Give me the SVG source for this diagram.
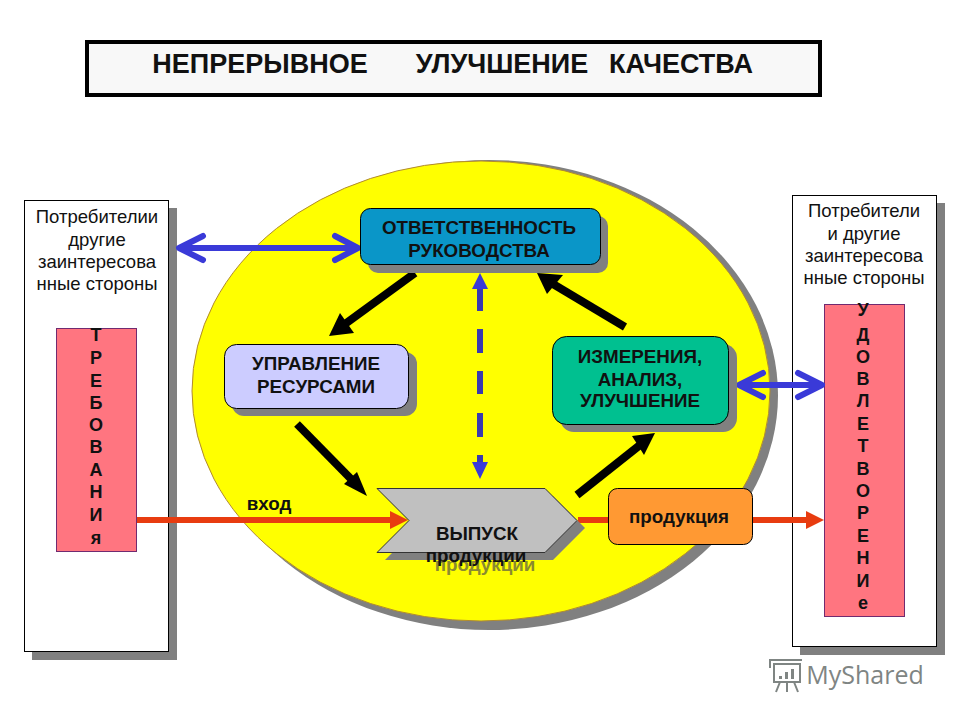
<svg xmlns="http://www.w3.org/2000/svg" width="960" height="720" viewBox="0 0 960 720">
<style>
text{font-family:"Liberation Sans",Arial,sans-serif;text-anchor:middle;fill:#111}
.t{font-weight:700;font-size:27px}
.b{font-weight:700;font-size:18.8px}
.r{font-size:18.5px}
.v{font-weight:700;font-size:18px}
.sh{fill:#808080}
.panel{fill:#fff;stroke:#000;stroke-width:1}
.red{fill:#ff7580;stroke:#702a70;stroke-width:1}
.k{stroke:#000;stroke-width:8;fill:none}
.bl{stroke:#3a3ad8;stroke-width:6;fill:none;stroke-linecap:round;stroke-linejoin:round}
.o{stroke:#e83c10;stroke-width:6;fill:none}
</style>
<rect width="960" height="720" fill="#fff"/>
<g id="title"><rect x="87" y="42" width="733" height="53" fill="#f8f8f8" stroke="#000" stroke-width="4"/>
<text class="t" x="260" y="73">НЕПРЕРЫВНОЕ</text><text class="t" x="502" y="73">УЛУЧШЕНИЕ</text><text class="t" x="681" y="73">КАЧЕСТВА</text></g>
<g id="ellipse"><ellipse cx="489" cy="395" rx="289" ry="235" class="sh"/><ellipse cx="481" cy="391" rx="289" ry="230" fill="#ffff00" stroke="#b08a30"/></g>
<g id="left-panel"><rect x="32" y="208" width="145" height="452" class="sh"/><rect x="24.500" y="200.500" width="144" height="451" class="panel"/>
<text class="r" x="97" y="223">Потребителии</text><text class="r" x="97" y="246">другие</text><text class="r" x="97" y="268">заинтересова</text><text class="r" x="97" y="290">нные стороны</text>
<rect x="56.500" y="328.500" width="80" height="223" class="red"/>
<g class="v"><text x="96" y="341">Т</text><text x="96" y="364">Р</text><text x="96" y="387">Е</text><text x="96" y="409">Б</text><text x="96" y="431">О</text><text x="96" y="453">В</text><text x="96" y="476">А</text><text x="96" y="498">Н</text><text x="96" y="521">И</text><text x="96" y="544">я</text></g></g>
<g id="right-panel"><rect x="800" y="203" width="145" height="452" class="sh"/><rect x="792.500" y="195.500" width="144" height="451" class="panel"/>
<text class="r" x="864" y="217">Потребители</text><text class="r" x="864" y="240">и другие</text><text class="r" x="864" y="262">заинтересова</text><text class="r" x="864" y="284">нные стороны</text>
<rect x="824.500" y="304.500" width="80" height="312" class="red"/>
<g class="v"><text x="863" y="316">У</text><text x="863" y="341">Д</text><text x="863" y="363">О</text><text x="863" y="385">В</text><text x="863" y="407">Л</text><text x="863" y="430">Е</text><text x="863" y="452">Т</text><text x="863" y="475">В</text><text x="863" y="497">О</text><text x="863" y="519">Р</text><text x="863" y="542">Е</text><text x="863" y="564">Н</text><text x="863" y="587">И</text><text x="863" y="609">е</text></g></g>
<g id="connectors">
<path class="o" d="M137 520H392"/><path d="M390 511L408 520L390 529Z" fill="#e83c10"/>
<path class="o" d="M578 520H610M744 520H808"/><path d="M806 511L824 520L806 529Z" fill="#e83c10"/>
<path class="bl" d="M180 248H355M203 236L179 248L203 260M335 236L358 248L335 260"/>
<path class="bl" d="M740 385H820M763 373L739 385L763 397M798 373L822 385L798 397"/>
<path stroke="#3a3ab0" stroke-width="6" fill="none" d="M480 289V311M480 329V353M480 371V394M480 413V437M480 455V463"/>
<path d="M480 273L488 289H472ZM480 479L472 462H488Z" fill="#3a3ad8"/>
<path class="k" d="M415 273L345 324"/><path d="M329 336L340 313L354 333Z"/>
<path class="k" d="M297 424L352 480"/><path d="M367 496L344 484L357 472Z"/>
<path class="k" d="M577 495L640 445"/><path d="M655 433L632 436L644 455Z"/>
<path class="k" d="M625 327L553 284"/><path d="M537 273L563 275L547 294Z"/>
</g>
<g id="n1"><rect x="368" y="216" width="240" height="57" rx="10" class="sh"/><rect x="360.500" y="208.500" width="240" height="56" rx="10" fill="#0a96c8" stroke="#000"/><text class="b" x="479" y="234">ОТВЕТСТВЕННОСТЬ</text><text class="b" x="479" y="257">РУКОВОДСТВА</text></g>
<g id="n2"><rect x="232" y="352" width="185" height="64" rx="12" class="sh"/><rect x="224.500" y="344.500" width="184" height="64" rx="12" fill="#ccccff" stroke="#000"/><text class="b" x="316" y="370">УПРАВЛЕНИЕ</text><text class="b" x="316" y="393">РЕСУРСАМИ</text></g>
<g id="n3"><rect x="560" y="344" width="177" height="88" rx="14" class="sh"/><rect x="552.500" y="336.500" width="176" height="88" rx="14" fill="#00c090" stroke="#000"/><text class="b" x="640" y="363">ИЗМЕРЕНИЯ,</text><text class="b" x="640" y="386">АНАЛИЗ,</text><text class="b" x="640" y="407">УЛУЧШЕНИЕ</text></g>
<g id="n4"><text class="b" x="485" y="571" style="fill:#8a8a30">продукции</text><path d="M385 496H553L585 528L553 560H385L417 528Z" class="sh"/><path d="M377 488.500H545L577 520.500L545 552.500H377L409 520.500Z" fill="#c0c0c0" stroke="#333"/><text class="b" x="477" y="540">ВЫПУСК</text><text class="b" x="476" y="562">продукции</text></g>
<g id="n5"><rect x="608.500" y="488.500" width="144" height="56" rx="9" fill="#ff9933" stroke="#000"/><text class="b" x="679" y="523">продукция</text></g>
<text class="b" x="269" y="510">вход</text>
<g id="watermark"><text x="865" y="684" style="font-size:25px;fill:#7f8583;font-family:'Open Sans',sans-serif">MyShared</text>
<g fill="none" stroke="#7f8583" stroke-width="2"><rect x="774" y="664" width="26" height="18"/><path d="M769 660H802M770 660V668M780 682L776 692M794 682L798 692M787 682V692"/></g>
<path d="M779 676h3v3h-3zM785 672h3v7h-3zM791 669h3v10h-3z" fill="#7f8583"/></g>
</svg>
